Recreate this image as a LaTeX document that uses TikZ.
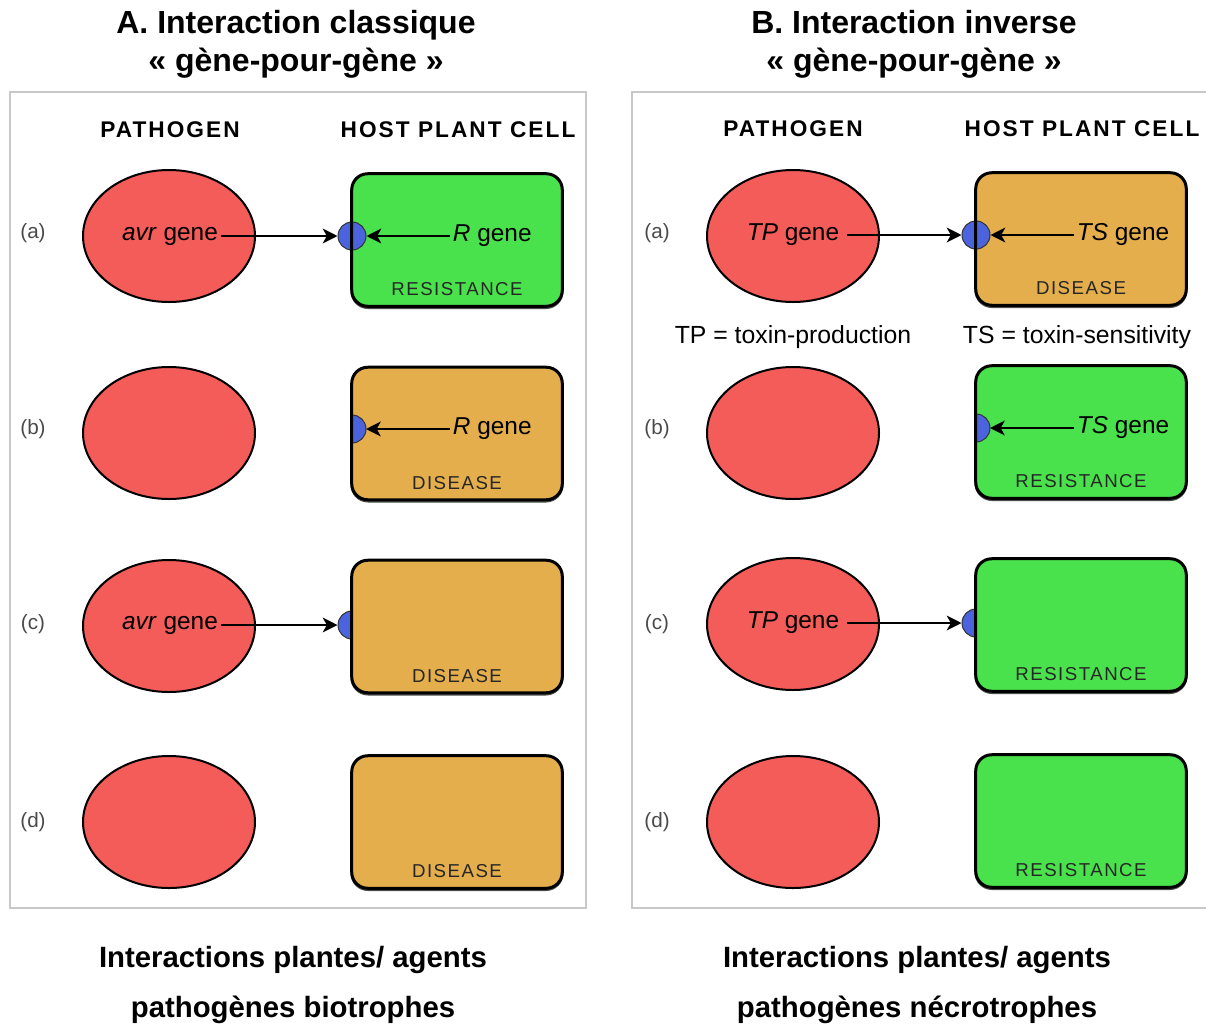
\documentclass[tikz,border=0pt]{standalone}
\usepackage{fontspec}
\setmainfont{Liberation Sans}
\newfontfamily\hdrfont[LetterSpace=9]{Liberation Sans}
\newfontfamily\lblfont[LetterSpace=8]{Liberation Sans}
\usetikzlibrary{arrows.meta,shapes.geometric}
\definecolor{pred}{HTML}{F35C58}
\definecolor{pgreen}{HTML}{4AE24C}
\definecolor{porange}{HTML}{E3AE4B}
\definecolor{pblue}{HTML}{4B64DE}
\definecolor{framegray}{HTML}{C8C8C8}
\definecolor{lblgray}{HTML}{4A4A4A}
\tikzset{
  pathogen/.style={ellipse, draw=black, line width=1.5pt, fill=pred, minimum width=129pt, minimum height=99pt, inner sep=0pt},
  cellfill/.style={rectangle, rounded corners=12pt, minimum width=157.5pt, minimum height=99pt, inner sep=0pt},
  cellborder/.style={draw=black, line width=2.25pt, rounded corners=12pt},
  cellshadow/.style={draw=black!70, line width=2.25pt, rounded corners=12pt},
  receptor/.style={circle, draw=black!80, line width=0.75pt, fill=pblue, minimum size=21pt, inner sep=0pt},
  halfreceptor/.style={fill=pblue, draw=black!80, line width=0.75pt},
  signal/.style={draw=black, line width=2pt, -{Stealth[length=11pt,width=11pt,inset=3pt]}},
  gene/.style={font=\fontsize{18.3}{20}\selectfont, inner sep=2pt},
  cellstate/.style={font=\lblfont\fontsize{14}{16}\selectfont, text=black!85},
  rowlabel/.style={font=\fontsize{15.5}{17}\selectfont, text=lblgray},
  header/.style={font=\hdrfont\bfseries\fontsize{17}{19}\selectfont},
  note/.style={font=\fontsize{18.6}{21}\selectfont},
  paneltitle/.style={font=\bfseries\fontsize{24}{28.5}\selectfont, align=center},
  panelcaption/.style={font=\bfseries\fontsize{22}{37.5}\selectfont, align=center},
  panelframe/.style={draw=framegray, line width=1.5pt}
}
\begin{document}
\begin{tikzpicture}[x=0.75pt,y=-0.75pt]
\clip (0,0) rectangle (1206,1025);
\fill[white] (0,0) rectangle (1206,1025);

% titles
\node[paneltitle] (titleA) at (296,44) {A. Interaction classique\\« gène-pour-gène »};
\node[paneltitle] (titleB) at (914,44) {B. Interaction inverse\\« gène-pour-gène »};

% frames
\draw[panelframe] (10,92) rectangle (586,908);
\draw[panelframe] (632,92) rectangle (1220,908);

% headers
\node[header] (hpA) at (170,130) {PATHOGEN};
\node[header] (hcA) at (458,130) {HOST PLANT CELL};
\node[header] (hpB) at (793,129) {PATHOGEN};
\node[header] (hcB) at (1082,129) {HOST PLANT CELL};

% row labels
\foreach \lab/\yy in {a/233,b/429,c/624,d/822}{
  \node[rowlabel] (rowL\lab) at (33,\yy) {(\lab)};
  \node[rowlabel] (rowR\lab) at (657,\yy) {(\lab)};
}

% pathogens
\node[pathogen] (pathLA) at (169,236) {};
\node[pathogen] (pathLB) at (169,433) {};
\node[pathogen] (pathLC) at (169,626) {};
\node[pathogen] (pathLD) at (169,822) {};
\node[pathogen] (pathRA) at (793,236) {};
\node[pathogen] (pathRB) at (793,433) {};
\node[pathogen] (pathRC) at (793,624) {};
\node[pathogen] (pathRD) at (793,822) {};

% receptors lying under the cells (row c)
\node[receptor] (recLC) at (352,625) {};
\node[receptor] (recRC) at (976,623) {};

% cell shadows and fills
\foreach \nm/\xx/\yy/\col in {cellLA/457/240/pgreen, cellLB/457/433.5/porange, cellLC/457/626.5/porange, cellLD/457/822/porange,
                              cellRA/1081/239/porange, cellRB/1081/432/pgreen, cellRC/1081/625/pgreen, cellRD/1081/821/pgreen}{
  \draw[cellshadow] (\xx-105,\yy-66+1.5) rectangle (\xx+105,\yy+66+1.5);
  \node[cellfill, fill=\col] (\nm) at (\xx,\yy) {};
}

% receptors in row a (full) and row b (inner half)
\node[receptor] (recLA) at (352,236) {};
\node[receptor] (recRA) at (976,235) {};
\filldraw[halfreceptor] (352,415) arc[start angle=90, end angle=-90, radius=10.5pt] -- cycle;
\coordinate (recLB) at (366,429);
\filldraw[halfreceptor] (976,414) arc[start angle=90, end angle=-90, radius=10.5pt] -- cycle;
\coordinate (recRB) at (990,428);

% cell borders
\foreach \nm in {cellLA,cellLB,cellLC,cellLD,cellRA,cellRB,cellRC,cellRD}{
  \draw[cellborder] (\nm.south west) rectangle (\nm.north east);
}

% state labels
\node[cellstate] (stLA) at ([yshift=12.75pt]cellLA.south) {RESISTANCE};
\node[cellstate] (stLB) at ([yshift=12.75pt]cellLB.south) {DISEASE};
\node[cellstate] (stLC) at ([yshift=12.75pt]cellLC.south) {DISEASE};
\node[cellstate] (stLD) at ([yshift=12.75pt]cellLD.south) {DISEASE};
\node[cellstate] (stRA) at ([yshift=12.75pt]cellRA.south) {DISEASE};
\node[cellstate] (stRB) at ([yshift=12.75pt]cellRB.south) {RESISTANCE};
\node[cellstate] (stRC) at ([yshift=12.75pt]cellRC.south) {RESISTANCE};
\node[cellstate] (stRD) at ([yshift=12.75pt]cellRD.south) {RESISTANCE};

% gene labels
\node[gene] (avrA) at (170,236) {\textit{avr} gene};
\node[gene] (avrC) at (170,625) {\textit{avr} gene};
\node[gene, anchor=west] (RgA) at (450,236) {\textit{R} gene};
\node[gene, anchor=west] (RgB) at (450,429) {\textit{R} gene};
\node[gene] (tpA) at (793,235) {\textit{TP} gene};
\node[gene] (tpC) at (793,623) {\textit{TP} gene};
\node[gene, anchor=west] (tsA) at (1074,235) {\textit{TS} gene};
\node[gene, anchor=west] (tsB) at (1074,428) {\textit{TS} gene};

% signals
\draw[signal] (avrA.east) -- (recLA.west);
\draw[signal] (RgA.west) -- (recLA.east);
\draw[signal] (RgB.west) -- (recLB);
\draw[signal] (avrC.east) -- (recLC.west);
\draw[signal] ([xshift=4pt]tpA.east) -- (recRA.west);
\draw[signal] (tsA.west) -- (recRA.east);
\draw[signal] (tsB.west) -- (recRB);
\draw[signal] ([xshift=4pt]tpC.east) -- (recRC.west);

% notes
\node[note] (noteTP) at (793,337) {TP = toxin-production};
\node[note] (noteTS) at (1077,337) {TS = toxin-sensitivity};

% captions
\node[panelcaption] (capA) at (293,985) {Interactions plantes/ agents\\pathogènes biotrophes};
\node[panelcaption] (capB) at (917,985) {Interactions plantes/ agents\\pathogènes nécrotrophes};
\end{tikzpicture}
\end{document}
